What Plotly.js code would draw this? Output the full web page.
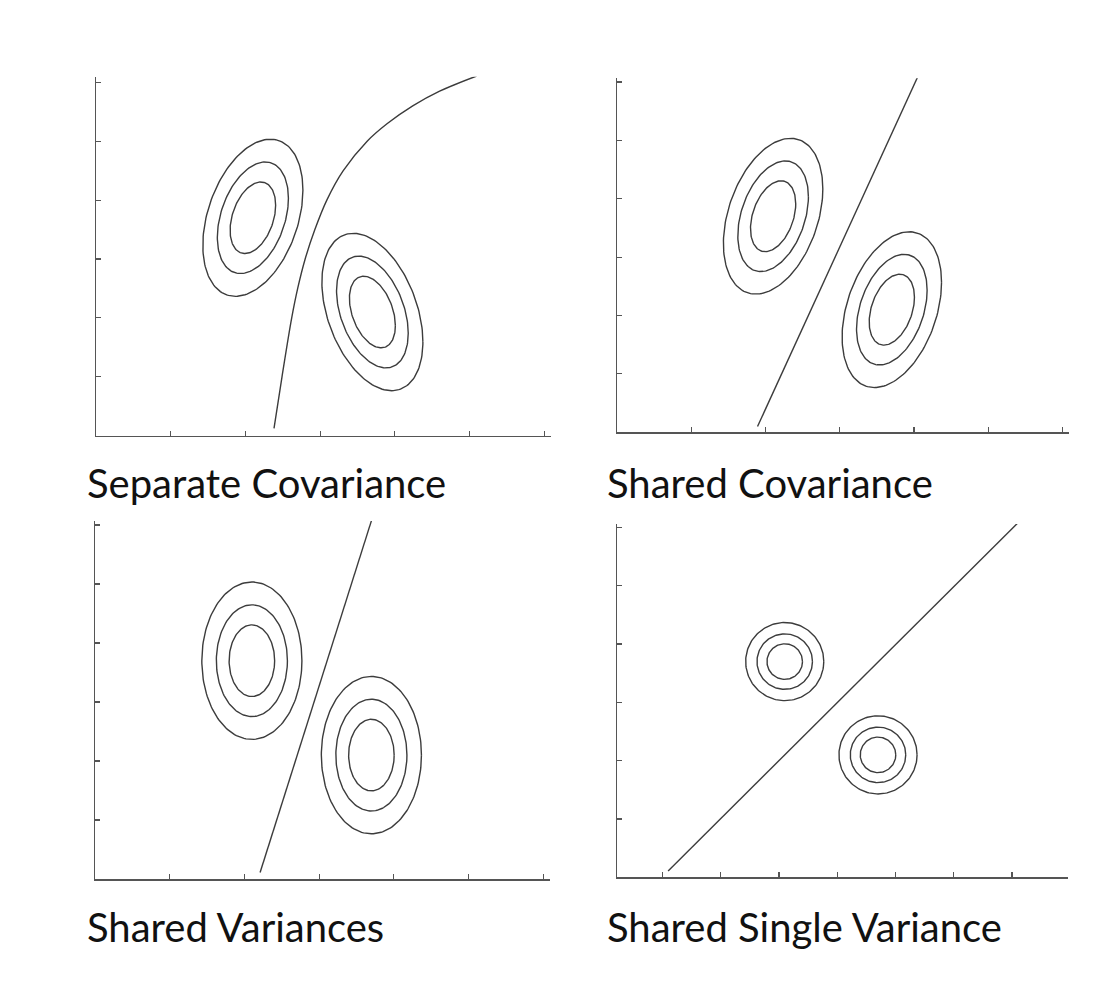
<!DOCTYPE html>
<html>
<head>
<meta charset="utf-8">
<script src="https://cdn.plot.ly/plotly-3.0.1.min.js"></script>
<style>html,body{margin:0;padding:0;background:#fff;}#chart{width:1113px;height:1000px;}</style>
</head>
<body>
<div id="chart"></div>
<script>
// ---- Data ----
const panelTitles = ["Separate Covariance", "Shared Covariance", "Shared Variances", "Shared Single Variance"];
const tickValsX = [1, 2, 3, 4, 5, 6];
const tickValsXPanel4 = [0, 1, 2, 3, 4, 5, 6];
const tickValsY = [1, 2, 3, 4, 5, 6];

// class means (same in every panel)
const meanA = [2.1, 3.7];
const meanB = [3.7, 2.1];

// contour levels (Mahalanobis radii)
const contourLevels = [2.0, 1.42, 0.91];

// covariance parameters per panel: [sx, sy, rho] for class A and class B
const covSeparateA = [0.335, 0.667, 0.35];
const covSeparateB = [0.338, 0.668, -0.38];
const covShared = [0.335, 0.667, 0.35];
const covSharedVar = [0.335, 0.667, 0.0];
const covSingleVar = [0.335, 0.335, 0.0];

// decision boundaries
const boundary1X = [2.383, 2.49, 2.62, 2.70, 2.80, 2.93, 3.09, 3.31, 3.63, 3.90, 4.24, 4.60, 5.096];
const boundary1Y = [0.126, 1.0, 2.0, 2.5, 3.0, 3.5, 4.0, 4.5, 5.0, 5.3, 5.6, 5.85, 6.107];
const boundary2X = [1.89, 4.05];
const boundary2Y = [0.10, 6.09];
const boundary3X = [2.21, 3.70];
const boundary3Y = [0.11, 6.07];
const boundary4X = [0.10, 6.09];
const boundary4Y = [0.11, 6.07];

// ---- Build traces ----
const lineColor = "#3c3c3c";
function ellipse(mean, cov, r) {
  const sx = cov[0], sy = cov[1], rho = cov[2];
  const l11 = sx, l21 = rho * sy, l22 = sy * Math.sqrt(1 - rho * rho);
  const xs = [], ys = [];
  const n = 160;
  for (let i = 0; i <= n; i++) {
    const t = 2 * Math.PI * i / n;
    const u = r * Math.cos(t), v = r * Math.sin(t);
    xs.push(mean[0] + l11 * u);
    ys.push(mean[1] + l21 * u + l22 * v);
  }
  return {xs, ys};
}
const traces = [];
function addEllipses(mean, cov, ax) {
  contourLevels.forEach(r => {
    const e = ellipse(mean, cov, r);
    traces.push({x: e.xs, y: e.ys, type: "scatter", mode: "lines", xaxis: "x" + ax, yaxis: "y" + ax,
      line: {color: lineColor, width: 1.4}, hoverinfo: "skip", showlegend: false});
  });
}
function addBoundary(xs, ys, ax, spline) {
  traces.push({x: xs, y: ys, type: "scatter", mode: "lines", xaxis: "x" + ax, yaxis: "y" + ax,
    line: {color: lineColor, width: 1.4, shape: spline ? "spline" : "linear", smoothing: 1.0},
    hoverinfo: "skip", showlegend: false});
}
addEllipses(meanA, covSeparateA, ""); addEllipses(meanB, covSeparateB, ""); addBoundary(boundary1X, boundary1Y, "", true);
addEllipses(meanA, covShared, "2"); addEllipses(meanB, covShared, "2"); addBoundary(boundary2X, boundary2Y, "2", false);
addEllipses(meanA, covSharedVar, "3"); addEllipses(meanB, covSharedVar, "3"); addBoundary(boundary3X, boundary3Y, "3", false);
addEllipses(meanA, covSingleVar, "4"); addEllipses(meanB, covSingleVar, "4"); addBoundary(boundary4X, boundary4Y, "4", false);

// ---- Layout ----
const W = 1113, H = 1000;
function axisBase(range, domain, tickvals, anchor) {
  return {range: range, domain: domain, anchor: anchor, tickvals: tickvals, ticks: "inside", ticklen: 5,
    tickwidth: 1.2, tickcolor: "#555", showticklabels: false, showgrid: false, zeroline: false,
    showline: true, linecolor: "#555", linewidth: 1.5, fixedrange: true};
}
const layout = {
  width: W, height: H, autosize: false,
  margin: {l: 0, r: 0, t: 0, b: 0},
  paper_bgcolor: "#fff", plot_bgcolor: "#fff", showlegend: false,
  xaxis: axisBase([0, 6.087], [96 / W, 550.7 / W], tickValsX, "y"),
  yaxis: axisBase([0, 6.095], [1 - 435.7 / H, 1 - 76.7 / H], tickValsY, "x"),
  xaxis2: axisBase([0, 6.092], [617.3 / W, 1069.3 / W], tickValsX, "y2"),
  yaxis2: axisBase([0, 6.062], [1 - 432.3 / H, 1 - 78.3 / H], tickValsY, "x2"),
  xaxis3: axisBase([0, 6.091], [95 / W, 550 / W], tickValsX, "y3"),
  yaxis3: axisBase([0, 6.068], [1 - 879 / H, 1 - 521 / H], tickValsY, "x3"),
  xaxis4: axisBase([-0.772, 6.964], [617.3 / W, 1068.3 / W], tickValsXPanel4, "y4"),
  yaxis4: axisBase([0, 6.06], [1 - 877.3 / H, 1 - 524 / H], tickValsY, "x4"),
  annotations: [
    [85, 483], [605, 483], [85, 927], [605, 927]
  ].map((p, i) => ({
    text: panelTitles[i], xref: "paper", yref: "paper", x: p[0] / W, y: 1 - p[1] / H,
    xanchor: "left", yanchor: "middle", showarrow: false,
    font: {family: "Lato, 'Open Sans', sans-serif", size: 40, color: "#111"}
  }))
};
Plotly.newPlot("chart", traces, layout, {staticPlot: true, displayModeBar: false});
</script>
</body>
</html>
